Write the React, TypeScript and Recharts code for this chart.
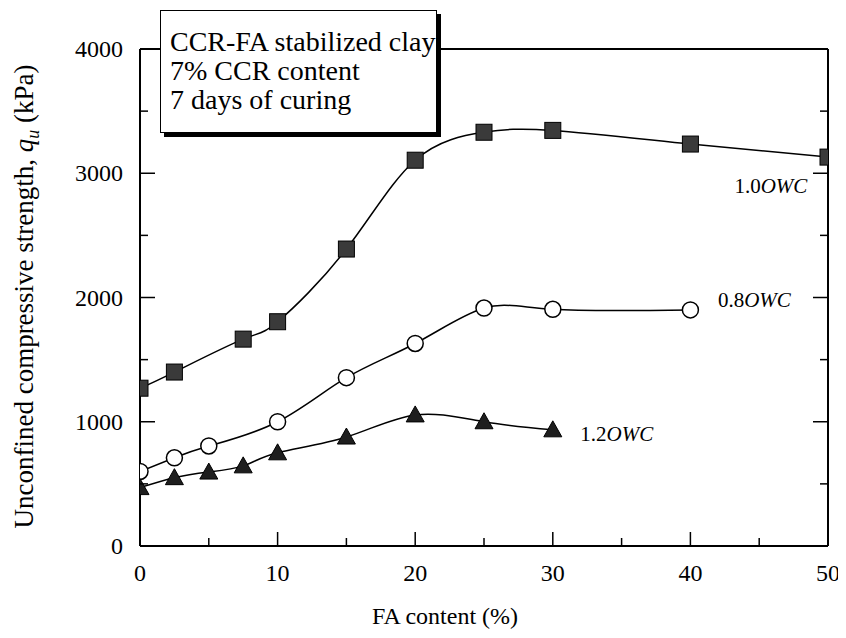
import { LineChart, Line, XAxis, YAxis, ReferenceDot, Label } from 'recharts';

// FA content (%) and unconfined compressive strength (kPa) per water content
const faOwc10 = [0, 2.5, 7.5, 10, 15, 20, 25, 30, 40, 50];
const quOwc10 = [1270, 1400, 1665, 1805, 2390, 3105, 3330, 3345, 3235, 3130];

const faOwc08 = [0, 2.5, 5, 10, 15, 20, 25, 30, 40];
const quOwc08 = [600, 710, 805, 1000, 1355, 1630, 1915, 1905, 1900];

const faOwc12 = [0, 2.5, 5, 7.5, 10, 15, 20, 25, 30];
const quOwc12 = [470, 550, 595, 645, 750, 877, 1055, 1000, 935];

const xTicks = [0, 5, 10, 15, 20, 25, 30, 35, 40, 45, 50];
const xTickLabels: Record<number, string> = { 0: '0', 10: '10', 20: '20', 30: '30', 40: '40', 50: '50.' };
const yTicks = [0, 500, 1000, 1500, 2000, 2500, 3000, 3500, 4000];

const infoLines = ['CCR-FA stabilized clay', '7% CCR content', '7 days of curing'];

const FONT = 'Liberation Serif';
const serif = { fontFamily: FONT };

const toRows = (xs: number[], ys: number[]) => xs.map((fa, i) => ({ fa, qu: ys[i] }));

const owc10 = toRows(faOwc10, quOwc10);
const owc08 = toRows(faOwc08, quOwc08);
const owc12 = toRows(faOwc12, quOwc12);

const SquareDot = (p: any) => (
  <rect key={`s-${p.index}`} x={p.cx - 8} y={p.cy - 8} width={16} height={16} fill="#3a3a3a" stroke="#000" strokeWidth={1} />
);
const CircleDot = (p: any) => (
  <circle key={`c-${p.index}`} cx={p.cx} cy={p.cy} r={8} fill="#fff" stroke="#000" strokeWidth={1.5} />
);
const TriangleDot = (p: any) => (
  <polygon
    key={`t-${p.index}`}
    points={`${p.cx},${p.cy - 9} ${p.cx - 9},${p.cy + 7} ${p.cx + 9},${p.cy + 7}`}
    fill="#1e1e1e"
    stroke="#000"
    strokeWidth={1}
  />
);

const BottomTick = ({ x, y, payload }: any) => {
  const major = payload.value % 10 === 0;
  const label = xTickLabels[payload.value];
  return (
    <g>
      <line x1={x} y1={y} x2={x} y2={y - (major ? 14 : 8)} stroke="#000" strokeWidth={1.5} />
      {major && (
        <text
          x={label && label.endsWith('.') ? x + 3 : x}
          y={y + 35}
          textAnchor="middle"
          fontSize={24}
          fontFamily={FONT}
          style={serif}
          fill="#000"
        >
          {label}
        </text>
      )}
    </g>
  );
};

const TopTick = ({ x, y, payload }: any) => {
  const major = payload.value % 10 === 0;
  return <line x1={x} y1={y} x2={x} y2={y + (major ? 15 : 7)} stroke="#000" strokeWidth={1.5} />;
};

const LeftTick = ({ x, y, payload }: any) => {
  const major = payload.value % 1000 === 0;
  return (
    <g>
      <line x1={x} y1={y} x2={x + (major ? 15 : 8)} y2={y} stroke="#000" strokeWidth={1.5} />
      {major && (
        <text x={x - 17} y={y + 8} textAnchor="end" fontSize={24} fontFamily={FONT} style={serif} fill="#000">
          {payload.value}
        </text>
      )}
    </g>
  );
};

const RightTick = ({ x, y, payload }: any) => {
  const major = payload.value % 1000 === 0;
  return <line x1={x} y1={y} x2={x - (major ? 15 : 8)} y2={y} stroke="#000" strokeWidth={1.5} />;
};

const OwcLabel = (text: string) => (p: any) => (
  <text x={p.cx} y={p.cy} fontSize={21} fontFamily={FONT} style={serif} fill="#000">
    <tspan>{text}</tspan>
    <tspan fontStyle="italic">OWC</tspan>
  </text>
);

const YTitle = ({ viewBox }: any) => {
  const cx = viewBox.x - 47;
  const cy = viewBox.y + viewBox.height / 2 - 1;
  return (
    <text
      x={cx}
      y={cy}
      transform={`rotate(-90 ${cx} ${cy})`}
      textAnchor="middle"
      fontSize={27}
      fontFamily={FONT}
      style={serif}
      fill="#000"
    >
      Unconfined compressive strength,{' '}
      <tspan fontStyle="italic">q</tspan>
      <tspan fontSize={18} fontStyle="italic" dy={6}>u</tspan>
      <tspan dy={-6}> (kPa)</tspan>
    </text>
  );
};

const XTitle = ({ viewBox }: any) => {
  const cx = viewBox.x + viewBox.width / 2 - 39;
  return (
    <text x={cx} y={viewBox.y + 78} textAnchor="middle" fontSize={24} fontFamily={FONT} style={serif} fill="#000">
      FA content (%)
    </text>
  );
};

export default function App() {
  return (
    <div style={{ position: 'relative', width: 838, height: 630, background: '#fff', fontFamily: FONT }}>
      <LineChart
        width={838}
        height={630}
        margin={{ top: 31, right: 8, bottom: 32, left: 72 }}
        style={{ fontFamily: FONT }}
      >
        <XAxis
          xAxisId="b"
          dataKey="fa"
          type="number"
          domain={[0, 50]}
          ticks={xTicks}
          interval={0}
          allowDataOverflow
          height={60}
          tickSize={0}
          tickMargin={0}
          tickLine={false}
          axisLine={{ stroke: '#000', strokeWidth: 2 }}
          tick={<BottomTick />}
        >
          <Label content={<XTitle />} />
        </XAxis>
        <XAxis
          xAxisId="t"
          orientation="top"
          type="number"
          domain={[0, 50]}
          ticks={xTicks}
          interval={0}
          allowDataOverflow
          height={10}
          tickSize={0}
          tickMargin={0}
          tickLine={false}
          axisLine={{ stroke: '#000', strokeWidth: 2 }}
          tick={<TopTick />}
        />
        <YAxis
          yAxisId="l"
          type="number"
          domain={[0, 4000]}
          ticks={yTicks}
          interval={0}
          allowDataOverflow
          width={60}
          tickSize={0}
          tickMargin={0}
          tickLine={false}
          axisLine={{ stroke: '#000', strokeWidth: 2 }}
          tick={<LeftTick />}
        >
          <Label content={<YTitle />} />
        </YAxis>
        <YAxis
          yAxisId="r"
          orientation="right"
          type="number"
          domain={[0, 4000]}
          ticks={yTicks}
          interval={0}
          allowDataOverflow
          width={10}
          tickSize={0}
          tickMargin={0}
          tickLine={false}
          axisLine={{ stroke: '#000', strokeWidth: 2 }}
          tick={<RightTick />}
        />
        <Line data={owc10} xAxisId="b" yAxisId="l" dataKey="qu" type="natural" stroke="#000" strokeWidth={1.5} dot={SquareDot} isAnimationActive={false} />
        <Line data={owc08} xAxisId="b" yAxisId="l" dataKey="qu" type="natural" stroke="#000" strokeWidth={1.5} dot={CircleDot} isAnimationActive={false} />
        <Line data={owc12} xAxisId="b" yAxisId="l" dataKey="qu" type="natural" stroke="#000" strokeWidth={1.5} dot={TriangleDot} isAnimationActive={false} />
        <ReferenceDot xAxisId="b" yAxisId="l" x={43.2} y={2840} r={0} shape={OwcLabel('1.0')} />
        <ReferenceDot xAxisId="b" yAxisId="l" x={42.0} y={1923} r={0} shape={OwcLabel('0.8')} />
        <ReferenceDot xAxisId="b" yAxisId="l" x={32.0} y={845} r={0} shape={OwcLabel('1.2')} />
      </LineChart>
      <div
        style={{
          position: 'absolute',
          left: 152,
          top: 2,
          width: 277,
          height: 123,
          boxSizing: 'border-box',
          border: '1.5px solid #000',
          boxShadow: '4px 4px 0 #000',
          background: '#fff',
          fontFamily: FONT,
          fontSize: 28,
          lineHeight: '29px',
          padding: '16px 0 0 9px',
          color: '#000',
          whiteSpace: 'nowrap',
        }}
      >
        {infoLines.map((t) => (
          <div key={t}>{t}</div>
        ))}
      </div>
    </div>
  );
}
